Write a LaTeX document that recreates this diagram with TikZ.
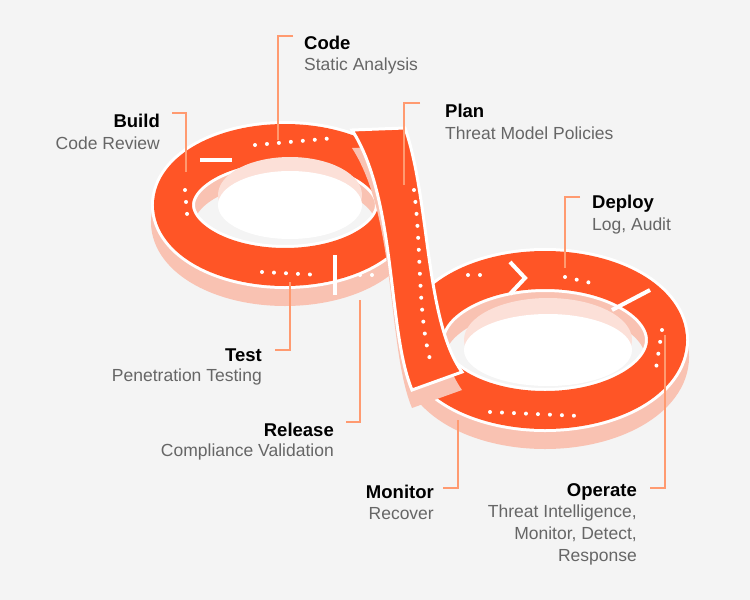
\documentclass[tikz,border=0pt]{standalone}
\usepackage{fontspec}
\setmainfont{Liberation Sans}
\definecolor{bgray}{HTML}{F4F4F4}
\definecolor{ringor}{HTML}{FF5526}
\definecolor{ringside}{HTML}{F9C2B2}
\definecolor{leadcol}{HTML}{FF9A70}
\definecolor{subgray}{HTML}{666666}
\tikzset{
  side/.style={draw=ringside, line width=44pt},
  rim/.style={draw=white, line width=44pt},
  band/.style={draw=ringor, line width=38pt},
  dots/.style={draw=white, line width=4pt, line cap=round, dash pattern=on 0pt off 12pt},
  leader/.style={draw=leadcol, line width=1.3pt},
  title/.style={font=\bfseries\fontsize{18.5}{20}\selectfont, inner sep=0pt},
  sub/.style={text=subgray, font=\fontsize{17.5}{22}\selectfont, inner sep=0pt, align=right},
}
\begin{document}
\begin{tikzpicture}[x=1pt, y=-1pt]
  \fill[bgray] (0,0) rectangle (750,600);
  % 3D sides
  \draw[side] (285,222) ellipse (112 and 62);
  \draw[side] (545,357) ellipse (122 and 70);
  % rims and bands
  \draw[rim] (285,205) ellipse (112 and 62);
  \draw[rim] (545,340) ellipse (122 and 70);
  \draw[band] (285,205) ellipse (112 and 62);
  \draw[band] (545,340) ellipse (122 and 70);
  % inner walls
  \fill[ringside!50] (290,195) ellipse (72 and 38);
  \fill[white] (290,205) ellipse (72 and 34);
  \fill[ringside!50] (548,340) ellipse (84 and 42);
  \fill[white] (548,350) ellipse (84 and 36);
  % segment cuts
  \draw[white, line width=4pt] (200,160) -- (232,160);
  \draw[white, line width=4pt] (335,255) -- (335,295);
  \draw[white, line width=4pt] (510,262) -- (525,278) -- (510,294);
  \draw[white, line width=4pt] (612,310) -- (650,290);
  % diagonal band
  \fill[ringside] (352,148) -- (405,146) .. controls (430,218) and (425,338) .. (462,390)
    -- (412,408) .. controls (387,348) and (397,218) .. cycle;
  \filldraw[ringor, draw=white, line width=3pt] (352,130) -- (405,128)
    .. controls (430,200) and (425,320) .. (462,372)
    -- (412,390) .. controls (387,330) and (397,200) .. cycle;
  % dots
  \draw[dots] (255,145) -- (335,138);
  \draw[dots] (185,190) -- (188,225);
  \draw[dots] (262,272) -- (320,275);
  \draw[dots] (360,275) -- (380,275);
  \draw[dots] (414,190) .. controls (422,250) and (417,320) .. (432,366);
  \draw[dots] (468,275) -- (485,275);
  \draw[dots] (565,277) -- (600,285);
  \draw[dots] (662,330) -- (655,375);
  \draw[dots] (490,412) -- (580,416);
  % labels
  \node[title, anchor=west] (code) at (304,43) {Code};
  \node[sub, anchor=west] (codes) at (304,66) {Static Analysis};
  \node[title, anchor=east] (build) at (160,121) {Build};
  \node[sub, anchor=east] (builds) at (160,143) {Code Review};
  \node[title, anchor=west] (plan) at (445,111) {Plan};
  \node[sub, anchor=west] (plans) at (445,133) {Threat Model Policies};
  \node[title, anchor=west] (deploy) at (592,204) {Deploy};
  \node[sub, anchor=west] (deploys) at (592,226) {Log, Audit};
  \node[title, anchor=east] (test) at (262,355) {Test};
  \node[sub, anchor=east] (tests) at (262,377) {Penetration Testing};
  \node[title, anchor=east] (release) at (334,430) {Release};
  \node[sub, anchor=east] (releases) at (334,452) {Compliance Validation};
  \node[title, anchor=east] (monitor) at (434,492) {Monitor};
  \node[sub, anchor=east] (monitors) at (434,514) {Recover};
  \node[title, anchor=east] (operate) at (637,492) {Operate};
  \node[sub, anchor=north east] (operates) at (637,505) {Threat Intelligence,\\Monitor, Detect,\\Response};
  % leaders
  \coordinate (lc1) at (293,36); \coordinate (lc2) at (278,140);
  \draw[leader] (lc1) -| (lc2);
  \coordinate (lb1) at (172,113); \coordinate (lb2) at (186,172);
  \draw[leader] (lb1) -| (lb2);
  \coordinate (lp1) at (420,103); \coordinate (lp2) at (404,185);
  \draw[leader] (lp1) -| (lp2);
  \coordinate (ld1) at (580,197); \coordinate (ld2) at (565,268);
  \draw[leader] (ld1) -| (ld2);
  \coordinate (lt1) at (275,350); \coordinate (lt2) at (290,282);
  \draw[leader] (lt1) -| (lt2);
  \coordinate (lr1) at (346,422); \coordinate (lr2) at (360,300);
  \draw[leader] (lr1) -| (lr2);
  \coordinate (lm1) at (443,488); \coordinate (lm2) at (458,420);
  \draw[leader] (lm1) -| (lm2);
  \coordinate (lo1) at (650,488); \coordinate (lo2) at (665,335);
  \draw[leader] (lo1) -| (lo2);
\end{tikzpicture}
\end{document}
